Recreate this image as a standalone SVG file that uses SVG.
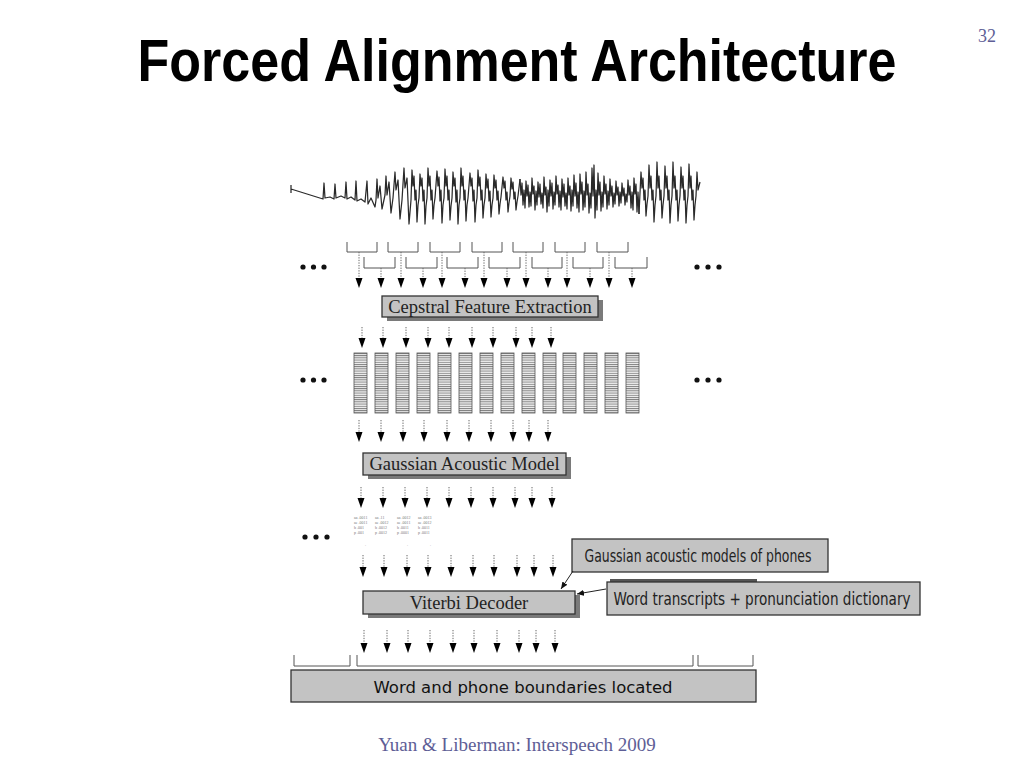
<svg xmlns="http://www.w3.org/2000/svg" width="1024" height="768" viewBox="0 0 1024 768">
<style>
.title{font-family:"Liberation Sans",Arial,sans-serif;font-weight:bold;font-size:52px;fill:#000}
.serif{font-family:"Liberation Serif","Times New Roman",serif}
.boxtxt{font-family:"Liberation Serif","Times New Roman",serif;font-size:18.5px;fill:#222}
.sans{font-family:"DejaVu Sans","Liberation Sans",sans-serif;fill:#111}
.cond{font-family:"DejaVu Sans Condensed","DejaVu Sans","Liberation Sans",sans-serif;font-size:17px;fill:#222}
.box{fill:#c3c3c3;stroke:#333;stroke-width:1.3}
.shadow{fill:#7a7a7a}
.stem{stroke:#666;stroke-width:1;stroke-dasharray:1.3 1.3;fill:none}
.brk{stroke:#555;stroke-width:1;fill:none}
.wave{stroke:#2a2a2a;stroke-width:1.25;fill:none;stroke-linejoin:round}
.vec{fill:url(#stripes);stroke:#555;stroke-width:0.8}
.tiny{font-family:"Liberation Serif",serif;font-size:4px;fill:#777}
.dot{fill:#111}
.foot{font-family:"Liberation Serif","Times New Roman",serif;fill:#5e5e96}
</style>
<defs>
<path id="ah" d="M-3.5,0 L3.5,0 L0,10 Z" fill="#000"/>
<pattern id="stripes" patternUnits="userSpaceOnUse" x="0" y="353" width="20" height="2.2">
<rect width="20" height="2.2" fill="#f2f2f2"/>
<line x1="0" y1="0.5" x2="20" y2="0.5" stroke="#666" stroke-width="0.8"/>
</pattern>
<marker id="mk" markerWidth="8" markerHeight="8" refX="7" refY="3" orient="auto" markerUnits="userSpaceOnUse">
<path d="M0,0 L7,3 L0,6 Z" fill="#111"/>
</marker>
</defs>
<rect width="1024" height="768" fill="#fff"/>

<g id="title">
<text class="title" text-anchor="middle" transform="translate(517,81) scale(1,1.14)">Forced Alignment Architecture</text>
<text class="serif" x="987" y="42" font-size="18" text-anchor="middle" fill="#5e5e96">32</text>
</g>

<g id="waveform">
<path class="wave" d="M291,185 L291,193 M291,189 L323,199 L324,183 L325,198 L330,197 L334,199 L335,184 L336,198 L341,196 L345,198 L346,182 L347,199 L351,197 L355,200 L356,181 L357,201 L361,199 L365,202 L367,181 L368,204 L371,198 L375,207 L376,200 L377,179 L378,198 L380,186 L382,209 L385,195 L386,176 L387,195 L389,182 L391,213 L393,198 L395,172 L396,190 L398,180 L400,219 L402,200 L404,168 L405,188 L407,178 L409,224 L411,200
L412,170 L413,186 L414,176 L415,200 L416,190 L417,222 L418,205 L419,198 L420,174 L421,186 L422,178 L423,201 L424,190 L425,224 L426,206 L427,198 L428,168 L429,186 L430,176 L431,200 L432,190 L433,219 L434,205 L435,198 L437,171 L438,186 L439,177 L440,201 L441,190 L442,223 L443,205 L444,198 L445,169 L446,186 L447,176 L448,200 L449,190 L450,220 L451,206 L452,198 L453,172 L454,186 L455,178 L456,202 L457,190 L458,224 L459,205 L460,198 L461,168 L462,186 L463,176 L464,200 L465,190 L466,221 L467,205 L468,198 L470,173 L471,186 L472,178 L473,201 L474,190 L475,222 L476,205 L477,198 L478,170 L479,186 L480,177 L481,200 L482,190 L483,218 L484,205 L485,198 L486,174 L487,188 L488,179 L489,201 L490,191 L491,217 L492,205 L493,198 L494,175 L495,188 L496,180 L497,200 L498,191 L499,214 L500,204 L501,197 L503,177 L504,188 L505,181 L506,200 L507,192 L508,212 L509,203 L510,196 L511,178 L512,189 L513,182 L514,199 L515,192 L516,210 L517,202 L518,196 L520,179"/>
<path class="wave" stroke-width="1.5" stroke="#111" d="M520,179 L521,195 L522,183 L523,205 L524,190 L525,208 L526,181 L527,196 L528,185 L529,207 L530,192 L531,206 L532,178 L533,194 L534,186 L535,210 L536,191 L537,205 L538,182 L539,197 L540,184 L541,204 L542,193 L543,208 L544,177 L545,195 L546,187 L547,212 L548,190 L549,206 L550,180 L551,196 L552,183 L553,209 L554,192 L555,205 L556,176 L557,194 L558,185 L559,207 L560,191 L561,210 L562,179 L563,197 L564,184 L565,206 L566,193 L567,209 L568,178 L569,195 L570,186 L571,211 L572,190 L573,206 L574,175 L575,196 L576,183 L577,208 L578,192 L579,212 L580,174 L581,194 L582,182 L583,210 L584,191 L585,207 L586,172 L587,195 L588,184 L589,213 L590,193 L591,208 L592,168 L593,196 L594,165 L595,218 L596,190 L597,210 L598,173 L599,195 L600,182 L601,211 L602,192 L603,207 L604,176 L605,194 L606,184 L607,209 L608,191 L609,205 L610,179 L611,196 L612,186 L613,207 L614,193 L615,204 L616,181 L617,195 L618,187 L619,206 L620,192 L621,203 L622,183 L623,196 L624,188 L625,205 L626,194 L627,202 L628,180 L629,195 L630,186 L631,208 L632,192 L633,210 L634,178 L635,194 L636,184 L637,212 L638,192 L639,214"/>
<path class="wave" d="M639,214 L641,172 L642,188 L643,178 L644,200 L645,190 L646,216 L647,204 L648,196 L649,165 L650,188 L651,176 L652,200 L653,190 L654,222 L655,205 L656,196 L657,162 L658,188 L659,176 L660,200 L661,190 L662,218 L663,205 L664,196 L665,166 L666,188 L667,176 L668,200 L669,190 L670,223 L671,205 L672,196 L673,162 L674,188 L675,176 L676,200 L677,190 L678,221 L679,205 L680,196 L681,167 L682,188 L683,176 L684,200 L685,190 L686,223 L687,205 L688,196 L689,164 L690,188 L691,176 L692,200 L693,190 L694,220 L695,205 L696,196 L697,172 L698,190 L700,182"/>
</g>

<g id="frames">
<path class="brk" d="M347,242 V252 H377 V242 M388,242 V252 H418 V242 M430,242 V252 H460 V242 M472,242 V252 H502 V242 M513,242 V252 H543 V242 M555,242 V252 H585 V242 M597,242 V252 H628 V242"/>
<path class="brk" d="M364,257 V268 H395 V257 M406,257 V268 H437 V257 M447,257 V268 H478 V257 M489,257 V268 H520 V257 M532,257 V268 H562 V257 M573,257 V268 H603 V257 M615,257 V268 H647 V257"/>
<circle class="dot" cx="303" cy="267" r="2.6"/><circle class="dot" cx="313.5" cy="267" r="2.6"/><circle class="dot" cx="324" cy="267" r="2.6"/>
<circle class="dot" cx="697" cy="267" r="2.6"/><circle class="dot" cx="708" cy="267" r="2.6"/><circle class="dot" cx="719" cy="267" r="2.6"/>
</g>

<g id="cepstral">
<rect class="shadow" x="387" y="300" width="216" height="21"/>
<rect class="box" x="382" y="296" width="216" height="21"/>
<text class="boxtxt" x="490" y="312.5" text-anchor="middle">Cepstral Feature Extraction</text>
</g>

<g id="features">
<rect class="vec" x="354" y="353" width="13" height="60"/>
<rect class="vec" x="375" y="353" width="13" height="60"/>
<rect class="vec" x="396" y="353" width="13" height="60"/>
<rect class="vec" x="417" y="353" width="13" height="60"/>
<rect class="vec" x="438" y="353" width="13" height="60"/>
<rect class="vec" x="459" y="353" width="13" height="60"/>
<rect class="vec" x="480" y="353" width="13" height="60"/>
<rect class="vec" x="501" y="353" width="13" height="60"/>
<rect class="vec" x="522" y="353" width="13" height="60"/>
<rect class="vec" x="543" y="353" width="13" height="60"/>
<rect class="vec" x="563" y="353" width="13" height="60"/>
<rect class="vec" x="584" y="353" width="13" height="60"/>
<rect class="vec" x="605" y="353" width="13" height="60"/>
<rect class="vec" x="626" y="353" width="13" height="60"/>
<circle class="dot" cx="303" cy="380" r="2.6"/><circle class="dot" cx="313.5" cy="380" r="2.6"/><circle class="dot" cx="324" cy="380" r="2.6"/>
<circle class="dot" cx="697" cy="380" r="2.6"/><circle class="dot" cx="708" cy="380" r="2.6"/><circle class="dot" cx="719" cy="380" r="2.6"/>
</g>

<g id="gaussian">
<rect class="shadow" x="368" y="457" width="203" height="22"/>
<rect class="box" x="363" y="453" width="203" height="22"/>
<text class="boxtxt" x="464.5" y="470" text-anchor="middle">Gaussian Acoustic Model</text>
</g>

<g id="likelihoods">
<text class="tiny" x="354" y="519">aa .0011</text><text class="tiny" x="354" y="524">ae .0011</text><text class="tiny" x="354" y="529">b .001</text><text class="tiny" x="354" y="534">p .001</text>
<text class="tiny" x="375" y="519">aa .11</text><text class="tiny" x="375" y="524">ae .0012</text><text class="tiny" x="375" y="529">b .0012</text><text class="tiny" x="375" y="534">p .0012</text>
<text class="tiny" x="397" y="519">aa .0012</text><text class="tiny" x="397" y="524">ae .0011</text><text class="tiny" x="397" y="529">b .0011</text><text class="tiny" x="397" y="534">p .0001</text>
<text class="tiny" x="418" y="519">aa .0013</text><text class="tiny" x="418" y="524">ae .0012</text><text class="tiny" x="418" y="529">b .0011</text><text class="tiny" x="418" y="534">p .0011</text>
<text class="tiny" x="365" y="546">.</text><text class="tiny" x="407" y="546">.</text><text class="tiny" x="430" y="546">.</text>
<circle class="dot" cx="305" cy="537" r="2.6"/><circle class="dot" cx="316" cy="537" r="2.6"/><circle class="dot" cx="327" cy="537" r="2.6"/>
</g>

<g id="viterbi">
<rect class="shadow" x="368" y="595" width="212" height="23"/>
<rect class="box" x="363" y="591" width="212" height="23"/>
<text class="boxtxt" x="469" y="608.5" text-anchor="middle">Viterbi Decoder</text>
</g>

<g id="phone-models">
<rect class="box" x="572" y="539" width="256" height="33" stroke-width="1.6"/>
<text class="cond" x="698" y="562" text-anchor="middle" textLength="227" lengthAdjust="spacingAndGlyphs">Gaussian acoustic models of phones</text>
</g>

<g id="dictionary">
<rect x="610" y="579" width="147" height="3" fill="#555"/>
<rect class="box" x="607" y="582" width="313" height="33" stroke-width="1.6"/>
<text class="cond" x="762" y="605" text-anchor="middle" textLength="297" lengthAdjust="spacingAndGlyphs">Word transcripts + pronunciation dictionary</text>
</g>

<g id="boundaries">
<path class="brk" d="M294,655 V666 H350 V655 M357,655 V666 H693 V655 M698,655 V666 H753 V655"/>
<rect class="box" x="291" y="670" width="465" height="32" fill="#c0c0c0"/>
<text class="sans" x="523" y="693" font-size="16" text-anchor="middle" textLength="299" lengthAdjust="spacingAndGlyphs">Word and phone boundaries located</text>
</g>

<g id="connectors">
<path class="stem" d="M359,252 V278 M401,252 V278 M442,252 V278 M484,252 V278 M526,252 V278 M567,252 V278 M609,252 V278 M381,268 V278 M423,268 V278 M465,268 V278 M507,268 V278 M548,268 V278 M590,268 V278 M632,268 V278"/>
<use href="#ah" x="359" y="278"/><use href="#ah" x="401" y="278"/><use href="#ah" x="442" y="278"/><use href="#ah" x="484" y="278"/><use href="#ah" x="526" y="278"/><use href="#ah" x="567" y="278"/><use href="#ah" x="609" y="278"/>
<use href="#ah" x="381" y="278"/><use href="#ah" x="423" y="278"/><use href="#ah" x="465" y="278"/><use href="#ah" x="507" y="278"/><use href="#ah" x="548" y="278"/><use href="#ah" x="590" y="278"/><use href="#ah" x="632" y="278"/>

<path class="stem" d="M362,327 V338 M383,327 V338 M406,327 V338 M428,327 V338 M449,327 V338 M472,327 V338 M493,327 V338 M516,327 V338 M532,327 V338 M551,327 V338"/>
<use href="#ah" x="362" y="338"/><use href="#ah" x="383" y="338"/><use href="#ah" x="406" y="338"/><use href="#ah" x="428" y="338"/><use href="#ah" x="449" y="338"/><use href="#ah" x="472" y="338"/><use href="#ah" x="493" y="338"/><use href="#ah" x="516" y="338"/><use href="#ah" x="532" y="338"/><use href="#ah" x="551" y="338"/>

<path class="stem" d="M359,420 V432 M381,420 V432 M403,420 V432 M424,420 V432 M447,420 V432 M469,420 V432 M491,420 V432 M513,420 V432 M529,420 V432 M548,420 V432"/>
<use href="#ah" x="359" y="432"/><use href="#ah" x="381" y="432"/><use href="#ah" x="403" y="432"/><use href="#ah" x="424" y="432"/><use href="#ah" x="447" y="432"/><use href="#ah" x="469" y="432"/><use href="#ah" x="491" y="432"/><use href="#ah" x="513" y="432"/><use href="#ah" x="529" y="432"/><use href="#ah" x="548" y="432"/>

<path class="stem" d="M361,487 V498 M383,487 V498 M405,487 V498 M427,487 V498 M449,487 V498 M471,487 V498 M493,487 V498 M515,487 V498 M532,487 V498 M552,487 V498"/>
<use href="#ah" x="361" y="498"/><use href="#ah" x="383" y="498"/><use href="#ah" x="405" y="498"/><use href="#ah" x="427" y="498"/><use href="#ah" x="449" y="498"/><use href="#ah" x="471" y="498"/><use href="#ah" x="493" y="498"/><use href="#ah" x="515" y="498"/><use href="#ah" x="532" y="498"/><use href="#ah" x="552" y="498"/>

<path class="stem" d="M363,555 V567 M384,555 V567 M407,555 V567 M428,555 V567 M451,555 V567 M473,555 V567 M494,555 V567 M517,555 V567 M534,555 V567 M553,555 V567"/>
<use href="#ah" x="363" y="567"/><use href="#ah" x="384" y="567"/><use href="#ah" x="407" y="567"/><use href="#ah" x="428" y="567"/><use href="#ah" x="451" y="567"/><use href="#ah" x="473" y="567"/><use href="#ah" x="494" y="567"/><use href="#ah" x="517" y="567"/><use href="#ah" x="534" y="567"/><use href="#ah" x="553" y="567"/>

<path class="stem" d="M364,630 V643 M387,630 V643 M408,630 V643 M430,630 V643 M453,630 V643 M474,630 V643 M497,630 V643 M519,630 V643 M536,630 V643 M555,630 V643"/>
<use href="#ah" x="364" y="643"/><use href="#ah" x="387" y="643"/><use href="#ah" x="408" y="643"/><use href="#ah" x="430" y="643"/><use href="#ah" x="453" y="643"/><use href="#ah" x="474" y="643"/><use href="#ah" x="497" y="643"/><use href="#ah" x="519" y="643"/><use href="#ah" x="536" y="643"/><use href="#ah" x="555" y="643"/>

<line x1="573" y1="571" x2="561" y2="589" stroke="#222" stroke-width="1" marker-end="url(#mk)"/>
<line x1="606" y1="589" x2="577" y2="594" stroke="#222" stroke-width="1" marker-end="url(#mk)"/>
</g>

<g id="footer">
<text class="foot" x="517" y="751" font-size="19" text-anchor="middle">Yuan &amp; Liberman: Interspeech 2009</text>
</g>
</svg>
